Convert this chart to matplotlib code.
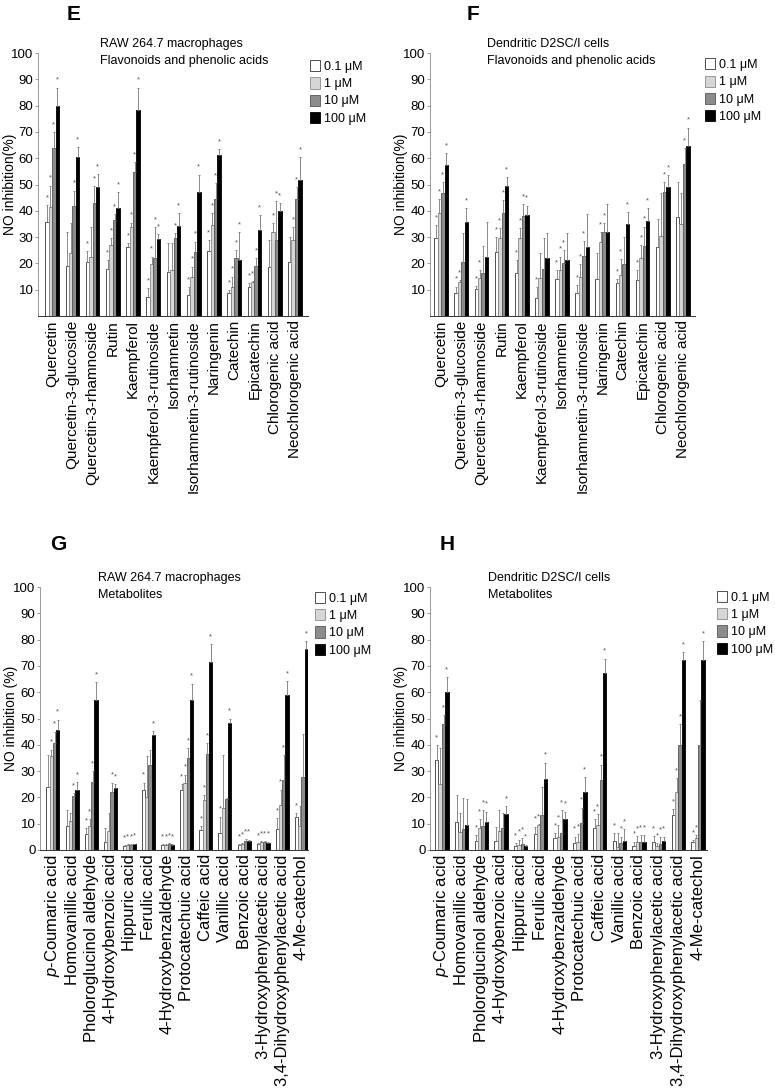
import numpy as np
import matplotlib as mpl
mpl.use('Agg')
import matplotlib.pyplot as plt
from matplotlib.patches import Patch

plt.rcParams['font.family'] = ['Liberation Sans', 'DejaVu Sans']
plt.rcParams['mathtext.fontset'] = 'custom'
plt.rcParams['mathtext.it'] = 'Liberation Sans:italic'
plt.rcParams['mathtext.rm'] = 'Liberation Sans'
NARROW = ['Liberation Sans Narrow', 'Liberation Sans', 'DejaVu Sans']

doses = ['0.1 \u03bcM', '1 \u03bcM', '10 \u03bcM', '100 \u03bcM']

flav_names = ['Quercetin', 'Quercetin-3-glucoside', 'Quercetin-3-rhamnoside', 'Rutin',
              'Kaempferol', 'Kaempferol-3-rutinoside', 'Isorhamnetin',
              'Isorhamnetin-3-rutinoside', 'Naringenin', 'Catechin', 'Epicatechin',
              'Chlorogenic acid', 'Neochlorogenic acid']
met_names = [r'$\it{p}$-Coumaric acid', 'Homovanillic acid', 'Pholoroglucinol aldehyde',
             '4-Hydroxybenzoic acid', 'Hippuric acid', 'Ferulic acid',
             '4-Hydroxybenzaldehyde', 'Protocatechuic acid', 'Caffeic acid',
             'Vanillic acid', 'Benzoic acid', '3-Hydroxyphenylacetic acid',
             '3,4-Dihydroxyphenylacetic acid', '4-Me-catechol']

# rows = compounds, columns = 0.1, 1, 10, 100 uM
e_mean = [[35.7, 41.5, 64, 80], [19, 23.8, 42, 60.5], [20.6, 22.5, 42.8, 48.9],
          [18, 27, 36.5, 40.9], [26.3, 34, 54.6, 78.2], [7.3, 19.7, 21.9, 29.1],
          [16.8, 17.5, 29.5, 34.2], [8, 14.7, 24.4, 47.2], [24.8, 34.6, 44.4, 61.4],
          [8.6, 10.9, 22.2, 21.3], [10.9, 12.8, 19, 32.7], [18.7, 31.8, 28.9, 40],
          [20.4, 28.9, 44.4, 51.6]]
e_err = [[6.5, 8, 6, 6.8], [13, 11.7, 5.6, 3.8], [4.1, 11.2, 6.6, 5.1],
         [3.3, 2.5, 2.2, 6.3], [1.5, 1.5, 4, 8.6], [3.2, 2.8, 11.8, 1.9],
         [10.8, 10.1, 1.9, 4.8], [3, 4, 3.8, 6.6], [4.1, 4.6, 6, 2],
         [1.3, 4, 2.8, 10.7], [1.5, 0.5, 2.9, 5.7], [10.2, 3.6, 14.8, 2.8],
         [9.6, 5, 4.7, 8.9]]
e_star = ['1111', '0011', '1011', '1111', '1111', '1111', '0011', '1111', '1111',
          '1111', '1111', '0111', '0111']

f_mean = [[29.7, 39.2, 46.8, 57.6], [8.9, 12.9, 20.6, 35.8], [10.1, 14.3, 16.2, 22.5],
          [24.4, 29.5, 39, 49.4], [16.2, 29.5, 38, 38.5], [6.7, 14.3, 17.7, 22.2],
          [13.9, 17.5, 20.3, 21.3], [8.6, 14.7, 23, 26.3], [13.9, 28.1, 31.8, 31.8],
          [12.4, 15.4, 19.7, 34.8], [13.7, 21.9, 26.6, 36], [26.3, 30.4, 47.2, 49.1],
          [37.5, 34.8, 57.7, 64.7]]
f_err = [[4.9, 5.1, 4.2, 4.4], [2.2, 0.8, 11, 5.1], [1.3, 3.2, 10.5, 13.3],
         [5.6, 3.8, 5, 3.5], [5.1, 3.8, 4.5, 3.5], [4.3, 9.5, 11.8, 9.2],
         [3.6, 5, 4.7, 10.3], [3.2, 5, 5.5, 12.4], [9.9, 3.7, 3.6, 10.7],
         [1.5, 6.1, 10.4, 4.6], [3.8, 5.1, 7.4, 4.9], [10.4, 16.2, 3.8, 4.4],
         [13.5, 12, 6, 6.9]]
f_star = ['1111', '1101', '1100', '1111', '1111', '1000', '1110', '1110', '0110',
          '1101', '1111', '0011', '0011']

g_mean = [[24, 35.7, 40.5, 45.6], [9.1, 11.1, 20.5, 23], [6.1, 9.1, 26, 57.2],
          [3.2, 7.3, 22.2, 23.4], [1.5, 1.9, 2, 2.1], [22.8, 20.3, 32.3, 43.7],
          [2, 2, 2.2, 1.8], [22.8, 25.3, 34.8, 57], [7.6, 19.2, 36.5, 71.5],
          [6.3, 15.8, 19.4, 48.1], [1.9, 2.3, 3.4, 3.4], [2.2, 3, 2.9, 2.8],
          [7.8, 17.1, 26.6, 58.9], [12.4, 9.1, 27.8, 76.6]]
g_err = [[12, 2.5, 4.5, 4], [6.1, 2.8, 1, 2.7], [2.1, 2.5, 4.1, 6.7],
         [5, 6.6, 3.4, 1.7], [0.3, 0.3, 0.3, 0.3], [2.8, 15.4, 5.9, 1.6],
         [0.3, 0.3, 0.3, 0.3], [2.3, 3.4, 3.8, 6.3], [1.5, 1.7, 4, 6.7],
         [6.4, 20.2, 0.2, 1.9], [0.4, 0.5, 0.6, 0.5], [0.4, 0.4, 0.4, 0.4],
         [4.2, 5.9, 9.4, 5.3], [1.5, 7.6, 16.2, 2.9]]
g_star = ['0111', '0011', '1111', '0011', '1111', '1001', '1111', '1111', '1111',
          '1001', '1111', '1111', '1111', '1001']

h_mean = [[34.2, 25, 47.8, 59.9], [10.8, 7, 7.8, 9.5], [3.5, 8.2, 9.1, 10.8],
          [3.4, 7.3, 8.2, 13.5], [1.5, 1.9, 2.2, 1.5], [5.9, 9.5, 13.3, 27],
          [4.4, 5.1, 6.3, 11.6], [2.5, 3, 10.4, 22.2], [8.2, 9.5, 26.6, 67.3],
          [3.4, 1, 2.5, 3.4], [1.6, 2.9, 2.9, 2.9], [3.2, 1.6, 2.2, 3.4],
          [13.3, 21.9, 40.1, 72.2], [3.2, 4.4, 40.1, 72.2]]
h_err = [[5.7, 13.6, 3.5, 5.7], [10.1, 6.9, 11.8, 9.9], [2.2, 3.4, 6.1, 3.8],
         [5.5, 7.9, 5.7, 3.2], [1.2, 2, 2.5, 0.5], [3, 0.4, 10.7, 6.2],
         [1.9, 4.4, 8.9, 3], [2.6, 2.9, 5.7, 5.6], [3.6, 4, 5.9, 5.5],
         [2.9, 5.5, 2.6, 4.4], [1.6, 2.4, 2.8, 2.8], [2.1, 0.9, 2.6, 1.7],
         [2.1, 5.3, 7.7, 3.1], [0.6, 1.3, 17.1, 7.2]]
h_star = ['1011', '0000', '1111', '0001', '1111', '1101', '1111', '1111', '1111',
          '1011', '1111', '1111', '1111', '1101']

fills = ['white', '#d6d6d6', '#8c8c8c', 'black']
edges = ['#333333', '#8a8a8a', '#555555', 'black']

W, H = 775, 1092
fig = plt.figure(figsize=(W / 100, H / 100), dpi=100)


def px_axes(x0, x1, y_top, y_bot):
    return fig.add_axes([x0 / W, 1 - y_bot / H, (x1 - x0) / W, (y_bot - y_top) / H])


def panel(ax, names, mean, err, star, xlim, ylabel, ylab_x, line1, line2, tx, leg_xy,
          show0, lab_fs):
    mean = np.array(mean)
    err = np.array(err)
    n = len(names)
    x = np.arange(n)
    bw = 0.17
    for j in range(4):
        pos = x + (j - 1.5) * bw
        ax.bar(pos, mean[:, j], bw, color=fills[j], edgecolor=edges[j], linewidth=0.6,
               yerr=[np.zeros(n), err[:, j]],
               error_kw=dict(ecolor='#777777', elinewidth=0.6, capsize=1.0, capthick=0.6),
               label=doses[j], zorder=2)
        for i in range(n):
            if star[i][j] == '1':
                ax.text(pos[i], mean[i, j] + err[i, j] + 1.5, '*', ha='center', va='bottom',
                        fontsize=5.5, color='#555555')
    ax.set_xlim(*xlim)
    ax.set_ylim(0, 100)
    ticks = np.arange(0 if show0 else 10, 101, 10)
    ax.set_yticks(ticks)
    ax.set_yticklabels([str(t) for t in ticks], family=NARROW, fontsize=9.5)
    ax.set_xticks(x)
    ax.set_xticklabels(names, rotation=90, fontsize=lab_fs)
    ax.tick_params(axis='x', length=0, pad=3)
    ax.tick_params(axis='y', length=2.5, width=0.6, color='#888888', pad=0.8)
    for s in ['top', 'right']:
        ax.spines[s].set_visible(False)
    ax.spines['left'].set_color('#999999')
    ax.spines['left'].set_linewidth(0.7)
    ax.spines['bottom'].set_color('#333333')
    ax.spines['bottom'].set_linewidth(0.7)
    ax.set_ylabel(ylabel, fontsize=10)
    ax.yaxis.set_label_coords(ylab_x, 0.5)
    ax.text(tx, 1.035, line1, transform=ax.transAxes, family=NARROW, fontsize=9, va='center')
    ax.text(tx, 0.97, line2, transform=ax.transAxes, family=NARROW, fontsize=9, va='center')
    handles = [Patch(facecolor=fills[j], edgecolor=edges[j], linewidth=0.6) for j in range(4)]
    ax.legend(handles, doses, loc='upper left', bbox_to_anchor=leg_xy, frameon=False,
              prop=dict(family=NARROW, size=9), handlelength=0.8, handleheight=1.0,
              handletextpad=0.35, labelspacing=0.35, borderpad=0, borderaxespad=0)


axE = px_axes(38, 308, 53, 316)
panel(axE, flav_names, e_mean, e_err, e_star, (-0.7, 12.65), 'NO inhibition(%)', -0.078,
      'RAW 264.7 macrophages', 'Flavonoids and phenolic acids', 0.23, (1.007, 0.973), False, 11)

axF = px_axes(430, 695, 53, 316)
panel(axF, flav_names, f_mean, f_err, f_star, (-0.55, 12.6), 'NO inhibition(%)', -0.083,
      'Dendritic D2SC/I cells', 'Flavonoids and phenolic acids', 0.215, (1.038, 0.98), False, 11)

axG = px_axes(40, 308, 587, 850)
panel(axG, met_names, g_mean, g_err, g_star, (-0.68, 13.35), 'NO inhibition (%)', -0.082,
      'RAW 264.7 macrophages', 'Metabolites', 0.216, (1.026, 0.981), True, 12)

axH = px_axes(430, 707, 587, 850)
panel(axH, met_names, h_mean, h_err, h_star, (-0.6, 13.45), 'NO inhibition (%)', -0.078,
      'Dendritic D2SC/I cells', 'Metabolites', 0.21, (1.036, 0.985), True, 12)

for lab, x, y in [('E', 67, 14), ('F', 467, 14), ('G', 50, 545), ('H', 440, 545)]:
    fig.text(x / W, 1 - y / H, lab, fontsize=15, fontweight='bold', ha='left', va='center')

plt.savefig('out.png', dpi=100)
